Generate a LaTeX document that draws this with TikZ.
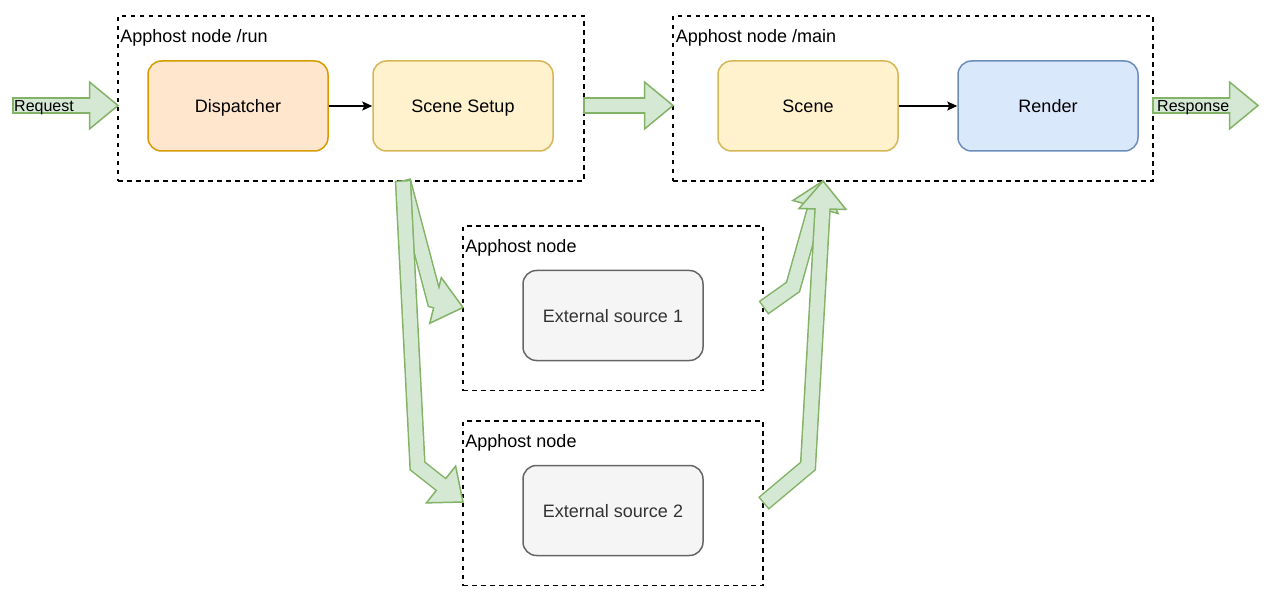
\documentclass[tikz,border=0pt]{standalone}
\usepackage{fontspec}
\setmainfont{Liberation Sans}
\usetikzlibrary{calc,arrows.meta}
\definecolor{ofill}{HTML}{FFE6CC}
\definecolor{ostroke}{HTML}{D79B00}
\definecolor{yfill}{HTML}{FFF2CC}
\definecolor{ystroke}{HTML}{D6B656}
\definecolor{bfill}{HTML}{DAE8FC}
\definecolor{bstroke}{HTML}{6C8EBF}
\definecolor{grfill}{HTML}{F5F5F5}
\definecolor{grstroke}{HTML}{666666}
\definecolor{grtext}{HTML}{333333}
\definecolor{gfill}{HTML}{D5E8D4}
\definecolor{gstroke}{HTML}{82B366}
\tikzset{
  box/.style={rounded corners=13.5pt, line width=1.5pt, minimum width=180pt, minimum height=90pt, inner sep=0pt, text height=13pt, text depth=0pt, font=\fontsize{18}{21.6}\selectfont, text=black},
  obox/.style={box, fill=ofill, draw=ostroke},
  ybox/.style={box, fill=yfill, draw=ystroke},
  bbox/.style={box, fill=bfill, draw=bstroke},
  gbox/.style={box, fill=grfill, draw=grstroke, text=grtext},
  cont/.style={draw=black, dash pattern=on 4.5pt off 4.5pt, line width=1.5pt, inner sep=0pt},
  clabel/.style={anchor=base west, inner sep=0pt, font=\fontsize{18}{21.6}\selectfont, text=black},
  alabel/.style={anchor=base west, inner sep=0pt, font=\fontsize{16}{19}\selectfont, text=black},
  conn/.style={line width=1.5pt, draw=black, -{Stealth[length=10pt,width=9pt,inset=2pt]}},
  flexout/.style={line width=16.5pt, draw=gstroke, line join=miter, line cap=butt},
  flexin/.style={line width=13.5pt, draw=gfill, line join=miter, line cap=butt},
  flexhead/.style={fill=gfill, draw=gstroke, line width=1.5pt, line join=miter},
}
% #1: body path from start through waypoints, #2: head base, #3: tip
\newcommand{\flexarr}[3]{%
  \draw[flexout, shorten <=-0.75pt] #1 -- ($(#2)!-1pt!(#3)$) -- (#2);
  \filldraw[flexhead] ($(#2)!23.5pt!90:(#3)$) -- (#3) -- ($(#2)!23.5pt!-90:(#3)$) -- cycle;
  \draw[flexin, shorten <=0.75pt, shorten >=-2.5pt] #1 -- ($(#2)!-1pt!(#3)$) -- (#2);
}
\begin{document}
\begin{tikzpicture}[x=1pt,y=-1pt]
\useasboundingbox (0,0) rectangle (1283,604);
\fill[white] (0,0) rectangle (1283,604);

% containers
\node[cont, minimum width=466pt, minimum height=165pt] (run) at (351,98.5) {};
\node[cont, minimum width=480pt, minimum height=165pt] (main) at (913,98.5) {};
\node[cont, minimum width=300pt, minimum height=164.5pt] (c1) at (613,308.25) {};
\node[cont, minimum width=300pt, minimum height=164.5pt] (c2) at (613,503.25) {};
\node[clabel] (runlbl) at ($(run.north west)+(3,27.5)$) {Apphost node /run};
\node[clabel] (mainlbl) at ($(main.north west)+(3.5,27.5)$) {Apphost node /main};
\node[clabel] (c1lbl) at ($(c1.north west)+(3,27.5)$) {Apphost node};
\node[clabel] (c2lbl) at ($(c2.north west)+(3,27.5)$) {Apphost node};

% boxes
\node[obox] (disp) at (238,106) {Dispatcher};
\node[ybox] (setup) at (463,106) {Scene Setup};
\node[ybox] (scene) at (808,106) {Scene};
\node[bbox] (render) at (1048,106) {Render};
\node[gbox] (ext1) at (613,315.5) {External source 1};
\node[gbox] (ext2) at (613,510.5) {External source 2};

\draw[conn] (disp.east) -- (setup.west);
\draw[conn] (scene.east) -- (render.west);

% flex arrow coordinates
\coordinate (reqS) at (13,105.5);
\coordinate (reqB) at (89.5,105.5);
\coordinate (reqT) at (118,105.5);
\coordinate (midS) at (584,105.5);
\coordinate (midB) at (644.5,105.5);
\coordinate (midT) at (673,105.5);
\coordinate (resS) at (1153,105.5);
\coordinate (resB) at (1229.5,105.5);
\coordinate (resT) at (1258,105.5);
\coordinate (downS) at (403,181);
\coordinate (d1B) at (435.5,300.5);
\coordinate (d1T) at (463,307.5);
\coordinate (d2W) at (417.5,466);
\coordinate (d2B) at (441,484.5);
\coordinate (d2T) at (463,502);
\coordinate (u1S) at (764,307.5);
\coordinate (u1W) at (793,287);
\coordinate (u1B) at (815.5,207);
\coordinate (upT) at (823,181);
\coordinate (u2S) at (764,503);
\coordinate (u2W) at (808,466);
\coordinate (u2B) at (822.5,209);

\flexarr{(reqS)}{reqB}{reqT}
\flexarr{(midS)}{midB}{midT}
\flexarr{(resS)}{resB}{resT}
\flexarr{(downS)}{d1B}{d1T}
\flexarr{(downS) -- (d2W)}{d2B}{d2T}
\flexarr{(u1S) -- (u1W)}{u1B}{upT}
\flexarr{(u2S) -- (u2W)}{u2B}{upT}

\node[alabel] (reqlbl) at (14,111.5) {Request};
\node[alabel] (reslbl) at (1157,111.5) {Response};
\end{tikzpicture}
\end{document}
